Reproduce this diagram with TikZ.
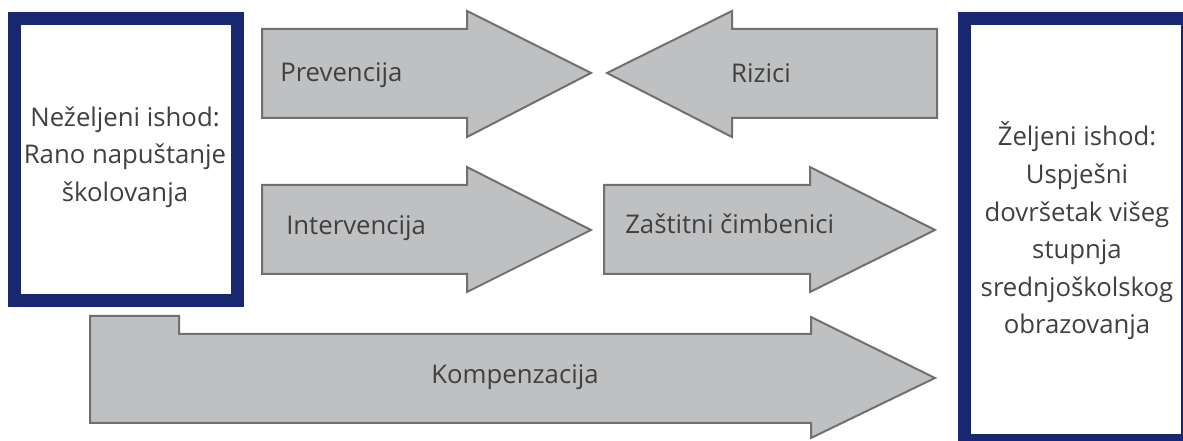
\documentclass[tikz,border=0pt]{standalone}
\usepackage{fontspec}
\setmainfont{Open Sans}
\definecolor{navy}{RGB}{24,40,112}
\definecolor{arrowfill}{RGB}{191,192,194}
\definecolor{arrowline}{RGB}{112,112,112}
\definecolor{txt}{RGB}{64,64,64}
\begin{document}
\begin{tikzpicture}[x=0.75pt,y=-0.75pt,
  arrowshape/.style={fill=arrowfill,draw=arrowline,line width=1.5pt,line join=miter},
  outcome/.style={draw=navy,line width=9.75pt,fill=white},
  lbl/.style={text=txt,font=\fontsize{19.3}{28.2}\selectfont,inner sep=0pt},
  boxlbl/.style={lbl,align=center}]
\useasboundingbox (0,0) rectangle (1183,441);
\begin{scope}
\clip (0,0) rectangle (1183,441);
% outcome boxes
\draw[outcome] (14.5,18.5) rectangle (237.5,300.5);
\draw[outcome] (964.5,18.5) rectangle (1187.5,440.5);
% Prevencija
\draw[arrowshape] (262,29) -- (467,29) -- (467,11) -- (591,73) -- (467,137) -- (467,118) -- (262,118) -- cycle;
% Intervencija
\draw[arrowshape] (262,185) -- (467,185) -- (467,167) -- (591,230) -- (467,292) -- (467,274) -- (262,274) -- cycle;
% Rizici
\draw[arrowshape] (937,29) -- (732,29) -- (732,11) -- (607,73) -- (732,137) -- (732,118) -- (937,118) -- cycle;
% Zastitni cimbenici
\draw[arrowshape] (604,185) -- (810,185) -- (810,167) -- (935,230) -- (810,292) -- (810,274) -- (604,274) -- cycle;
% Kompenzacija
\draw[arrowshape] (90,316) -- (179,316) -- (179,334) -- (811,334) -- (811,317) -- (935,378) -- (811,438) -- (811,423) -- (90,423) -- cycle;
\end{scope}
% labels
\node[boxlbl] (neg) at (125,157) {Neželjeni ishod:\\Rano napuštanje\\školovanja};
\node[boxlbl] (pos) at (1077,231) {Željeni ishod:\\Uspješni\\dovršetak višeg\\stupnja\\srednjoškolskog\\obrazovanja};
\node[lbl,anchor=west] (prev) at (280,75) {Prevencija};
\node[lbl,anchor=west] (interv) at (286,228) {Intervencija};
\node[lbl] (riz) at (761,73) {Rizici};
\node[lbl,anchor=west] (zast) at (625,224) {Zaštitni čimbenici};
\node[lbl] (komp) at (515,377) {Kompenzacija};
\end{tikzpicture}
\end{document}
